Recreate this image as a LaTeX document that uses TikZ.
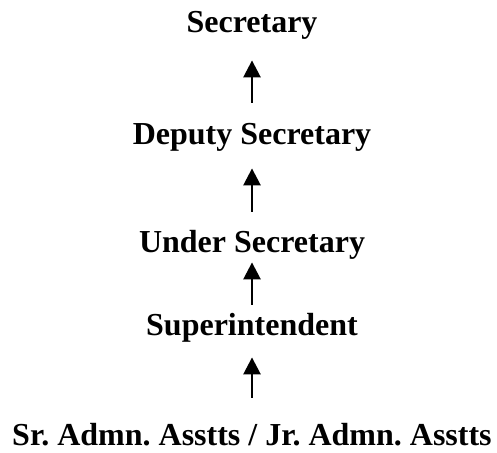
\documentclass[tikz,border=0pt]{standalone}
\usepackage{fontspec}
\setmainfont{Liberation Serif}
\usetikzlibrary{arrows.meta}
\frenchspacing

\begin{document}
\begin{tikzpicture}[x=0.5pt,y=-0.5pt,
	post/.style={font=\fontsize{16}{19}\selectfont\bfseries,anchor=base,
		inner sep=0pt,text height=11pt,text depth=3.5pt},
	up/.style={-{Triangle[length=8.5pt,width=8.5pt]},line width=1.3pt}]
	\useasboundingbox (0,0) rectangle (497,452);

	\node[post] (A) at (252,32) {Secretary};
	\node[post] (B) at (252,144) {Deputy Secretary};
	\node[post] (C) at (252,252) {Under Secretary};
	\node[post] (D) at (252,335) {Superintendent};
	\node[post] (E) at (252,445) {Sr. Admn. Asstts / Jr. Admn. Asstts};

	\draw[up,shorten <=9.5pt,shorten >=10.5pt] (B) -- (A);
	\draw[up,shorten <=9pt,shorten >=8.5pt] (C) -- (B);
	\draw[up,shorten <=4pt,shorten >=1.5pt] (D) -- (C);
	\draw[up,shorten <=12.5pt,shorten >=7.5pt] (E) -- (D);
\end{tikzpicture}
\end{document}
